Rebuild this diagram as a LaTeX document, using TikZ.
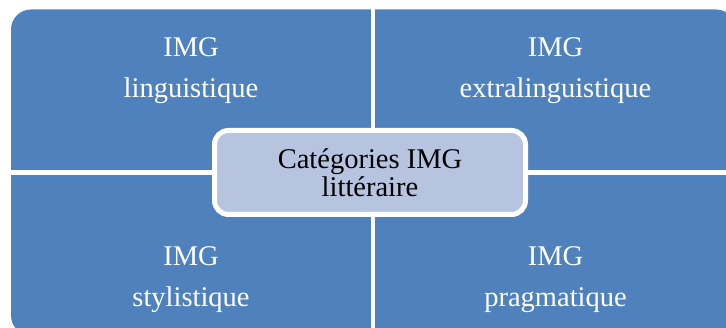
\documentclass[tikz,border=0pt]{standalone}
\usepackage{fontspec}
\setmainfont{Liberation Serif}
\usetikzlibrary{positioning}
\definecolor{quadblue}{RGB}{79,129,189}
\definecolor{coreblue}{RGB}{182,196,223}
\begin{document}
\begin{tikzpicture}[x=1pt,y=-1pt,
  quad/.style={rectangle,fill=quadblue,inner sep=0pt,minimum width=360pt,minimum height=160.5pt},
  qtext/.style={align=center,text=white,inner sep=0pt,font=\fontsize{28.5}{41}\selectfont},
  core/.style={rectangle,rounded corners=14pt,draw=white,line width=5pt,fill=coreblue,minimum width=311pt,minimum height=84pt,align=center,inner sep=0pt,font=\fontsize{28.5}{28.5}\selectfont}]
\useasboundingbox (0,0) rectangle (726,328);
\clip (0,0) rectangle (726,328);
\begin{scope}
\clip[rounded corners=20pt] (11,9.5) rectangle (736,335.5);
\node[quad] (ling) at (191,89.75) {};
\node[quad,minimum width=361pt] (extra) at (555.5,89.75) {};
\node[quad] (styl) at (191,255.25) {};
\node[quad,minimum width=361pt] (prag) at (555.5,255.25) {};
\end{scope}
\node[qtext,below=28.2pt of ling.north] (lingtxt) {IMG\\linguistique};
\node[qtext,below=28.2pt of extra.north] (extratxt) {IMG\\extralinguistique};
\node[qtext,below=71.5pt of styl.north] (styltxt) {IMG\\stylistique};
\node[qtext,below=71.5pt of prag.north] (pragtxt) {IMG\\pragmatique};
\node[core] (cat) at (370,172.5) {Catégories IMG\\littéraire};
\end{tikzpicture}
\end{document}
